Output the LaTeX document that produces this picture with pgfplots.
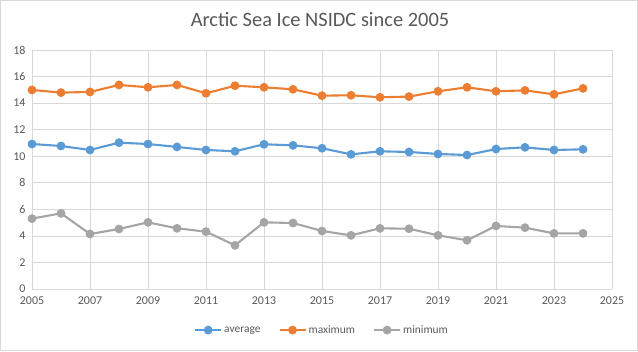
\documentclass[border=0pt]{standalone}
\usepackage{pgfplots}
\pgfplotsset{compat=1.18}
\usepackage{fontspec}
\setmainfont{Carlito}
\definecolor{cblue}{HTML}{5B9BD5}
\definecolor{corange}{HTML}{ED7D31}
\definecolor{cgrey}{HTML}{A5A5A5}
\definecolor{gridc}{HTML}{D9D9D9}
\definecolor{textc}{HTML}{595959}
\begin{document}
\begin{tikzpicture}[x=1bp,y=1bp]
\useasboundingbox (0,0) rectangle (638,351);
\draw[draw=gridc, line width=0.75bp] (0.5,0.5) rectangle (637.5,350.5);
\node[text=textc, font=\fontsize{20.5}{22}\selectfont] at (320,331) {Arctic Sea Ice NSIDC since 2005};
\begin{axis}[
  at={(32bp,62bp)}, anchor=south west, scale only axis,
  width=580bp, height=239bp,
  xmin=2005, xmax=2025, ymin=0, ymax=18,
  xtick={2005,2007,...,2025}, ytick={0,2,...,18},
  grid=major, grid style={gridc, line width=0.75bp},
  axis lines=left,
  x axis line style={-, gridc, line width=0.75bp},
  y axis line style={draw=none},
  major tick length=0pt,
  tick label style={text=textc, font=\fontsize{12}{13}\selectfont},
  /pgf/number format/assume math mode=true,
  /pgf/number format/1000 sep={},
  xticklabel style={yshift=-4bp},
  yticklabel style={xshift=-3bp},
  every axis plot/.append style={line width=2.1bp, mark=*, mark size=3.3bp, mark options={solid}},
  legend style={at={(0.5,-0.172)}, anchor=center, draw=none, fill=none, legend columns=3,
    font=\fontsize{11.5}{12}\selectfont, text=textc,
    /tikz/every even column/.append style={column sep=16bp}},
  legend image code/.code={\draw[#1, mark repeat=2, mark phase=2] plot coordinates {(0bp,0bp) (13bp,0bp) (26bp,0bp)};},
]
\addplot[cblue] coordinates {
(2005,10.92) (2006,10.77) (2007,10.47) (2008,11.02) (2009,10.92) (2010,10.70)
(2011,10.47) (2012,10.37) (2013,10.90) (2014,10.82) (2015,10.60) (2016,10.14)
(2017,10.37) (2018,10.32) (2019,10.17) (2020,10.09) (2021,10.54) (2022,10.67)
(2023,10.47) (2024,10.52)};
\addlegendentry{average}
\addplot[corange] coordinates {
(2005,14.99) (2006,14.79) (2007,14.84) (2008,15.37) (2009,15.19) (2010,15.37)
(2011,14.74) (2012,15.31) (2013,15.19) (2014,15.04) (2015,14.56) (2016,14.59)
(2017,14.44) (2018,14.49) (2019,14.89) (2020,15.19) (2021,14.89) (2022,14.96)
(2023,14.66) (2024,15.11)};
\addlegendentry{maximum}
\addplot[cgrey] coordinates {
(2005,5.30) (2006,5.70) (2007,4.14) (2008,4.52) (2009,5.02) (2010,4.57)
(2011,4.32) (2012,3.29) (2013,5.02) (2014,4.97) (2015,4.37) (2016,4.04)
(2017,4.57) (2018,4.54) (2019,4.04) (2020,3.67) (2021,4.75) (2022,4.62)
(2023,4.19) (2024,4.19)};
\addlegendentry{minimum}
\end{axis}
\end{tikzpicture}
\end{document}
